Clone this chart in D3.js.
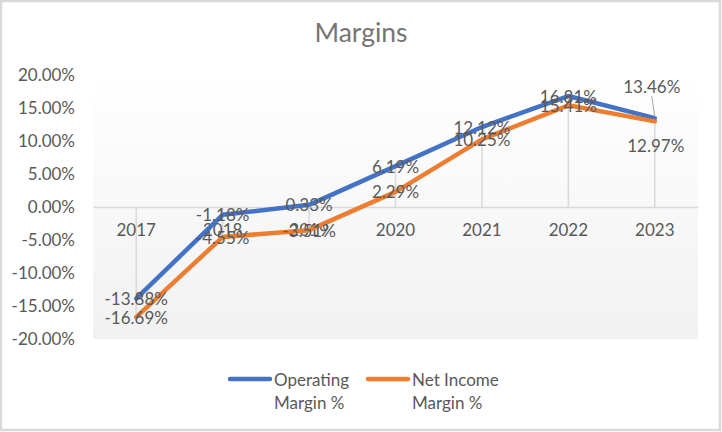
<!DOCTYPE html>
<html>
<head>
<meta charset="utf-8">
<script src="https://cdn.jsdelivr.net/npm/d3@7"></script>
<style>
  html, body { margin: 0; padding: 0; background: #fff; }
  svg { display: block; }
  text { font-family: Lato, "Liberation Sans", sans-serif; fill: #595959; }
</style>
</head>
<body>
<script>
const categories = ["2017", "2018", "2019", "2020", "2021", "2022", "2023"];
const operatingMargin = [-13.88, -1.18, 0.33, 6.19, 12.12, 16.81, 13.46];
const netIncomeMargin = [-16.69, -4.55, -3.51, 2.29, 10.25, 15.41, 12.97];
const yTicks = [-20, -15, -10, -5, 0, 5, 10, 15, 20];
const seriesNames = ["Operating Margin %", "Net Income Margin %"];
const seriesColors = ["#4472C4", "#ED7D31"];

const W = 722, H = 432;
const plot = { left: 93, right: 698, top: 75, bottom: 339 };
const FS = "17px";

const svg = d3.select("body").append("svg").attr("width", W).attr("height", H);

// chart border
svg.append("rect").attr("x", 1).attr("y", 1).attr("width", 719).attr("height", 429)
  .attr("fill", "#fff").attr("stroke", "#d9d9d9").attr("stroke-width", 2.5);

// plot area gradient
const defs = svg.append("defs");
const grad = defs.append("linearGradient").attr("id", "pg").attr("x1", 0).attr("y1", 0).attr("x2", 0).attr("y2", 1);
grad.append("stop").attr("offset", "0%").attr("stop-color", "#ffffff");
grad.append("stop").attr("offset", "100%").attr("stop-color", "#f1f1f1");

const x = d3.scaleBand().domain(categories).range([plot.left, plot.right]);
const y = d3.scaleLinear().domain([-20, 20]).range([plot.bottom, plot.top]);
const cx = c => x(c) + x.bandwidth() / 2;

svg.append("rect").attr("x", plot.left).attr("y", plot.top)
  .attr("width", plot.right - plot.left).attr("height", plot.bottom - plot.top)
  .attr("fill", "url(#pg)");

// title
svg.append("text").attr("x", 361).attr("y", 42).attr("text-anchor", "middle")
  .style("font-size", "26.5px").style("fill", "#757575").text("Margins");

// y axis labels
const yAxis = d3.axisLeft(y).tickValues(yTicks).tickSize(0).tickPadding(0)
  .tickFormat(d => d.toFixed(2) + "%");
const yg = svg.append("g").attr("transform", `translate(${75},0)`).call(yAxis);
yg.select(".domain").remove();
yg.selectAll("text").style("font-size", FS).style("fill", "#595959")
  .attr("font-family", null);

// drop lines
const drops = categories.map((c, i) => {
  const vals = [operatingMargin[i], netIncomeMargin[i], 0];
  return { c, lo: d3.min(vals), hi: d3.max(vals) };
});
svg.append("g").selectAll("line").data(drops).join("line")
  .attr("x1", d => cx(d.c)).attr("x2", d => cx(d.c))
  .attr("y1", d => y(d.hi)).attr("y2", d => y(d.lo))
  .attr("stroke", "#d9d9d9").attr("stroke-width", 1.5);

// category axis at zero
const xAxis = d3.axisBottom(x).tickSize(0).tickPadding(17);
const xg = svg.append("g").attr("transform", `translate(0,${y(0)})`).call(xAxis);
xg.select(".domain").attr("stroke", "#d9d9d9").attr("stroke-width", 1.5);
xg.selectAll("text").style("font-size", FS).style("fill", "#595959")
  .attr("font-family", null);

// lines
const allSeries = [operatingMargin, netIncomeMargin];
const line = d3.line().x((d, i) => cx(categories[i])).y(d => y(d));
allSeries.forEach((s, k) => {
  svg.append("path").datum(s).attr("d", line).attr("fill", "none")
    .attr("stroke", seriesColors[k]).attr("stroke-width", 4.5)
    .attr("stroke-linejoin", "round").attr("stroke-linecap", "round");
});

// data labels
const fmt = v => v.toFixed(2) + "%";
const labelOffsets = [
  [[0,0],[0,0],[0,0],[0,0],[0,0],[0,0],[-3,-32]],
  [[0,0],[0,0],[0,0],[0,0],[0,0],[0,0],[1,24]]
];
allSeries.forEach((s, k) => {
  s.forEach((v, i) => {
    const px = cx(categories[i]), py = y(v);
    const [dx, dy] = labelOffsets[k][i];
    if (k === 0 && i === 6) {
      svg.append("line").attr("x1", px + dx).attr("y1", py + dy + 10)
        .attr("x2", px).attr("y2", py - 1)
        .attr("stroke", "#a6a6a6").attr("stroke-width", 1);
    }
    svg.append("text").attr("x", px + dx).attr("y", py + dy)
      .attr("text-anchor", "middle").attr("dominant-baseline", "central")
      .style("font-size", FS).text(fmt(v));
  });
});

// legend
const legend = svg.append("g");
const legendItems = [
  { x1: 230, x2: 270, tx: 274, lines: ["Operating", "Margin %"] },
  { x1: 368, x2: 408, tx: 412, lines: ["Net Income", "Margin %"] }
];
legendItems.forEach((it, k) => {
  legend.append("line").attr("x1", it.x1).attr("x2", it.x2).attr("y1", 379).attr("y2", 379)
    .attr("stroke", seriesColors[k]).attr("stroke-width", 4.5).attr("stroke-linecap", "round");
  it.lines.forEach((t, j) => {
    legend.append("text").attr("x", it.tx).attr("y", 379 + j * 23)
      .attr("dominant-baseline", "central").style("font-size", FS).text(t);
  });
});
</script>
</body>
</html>
